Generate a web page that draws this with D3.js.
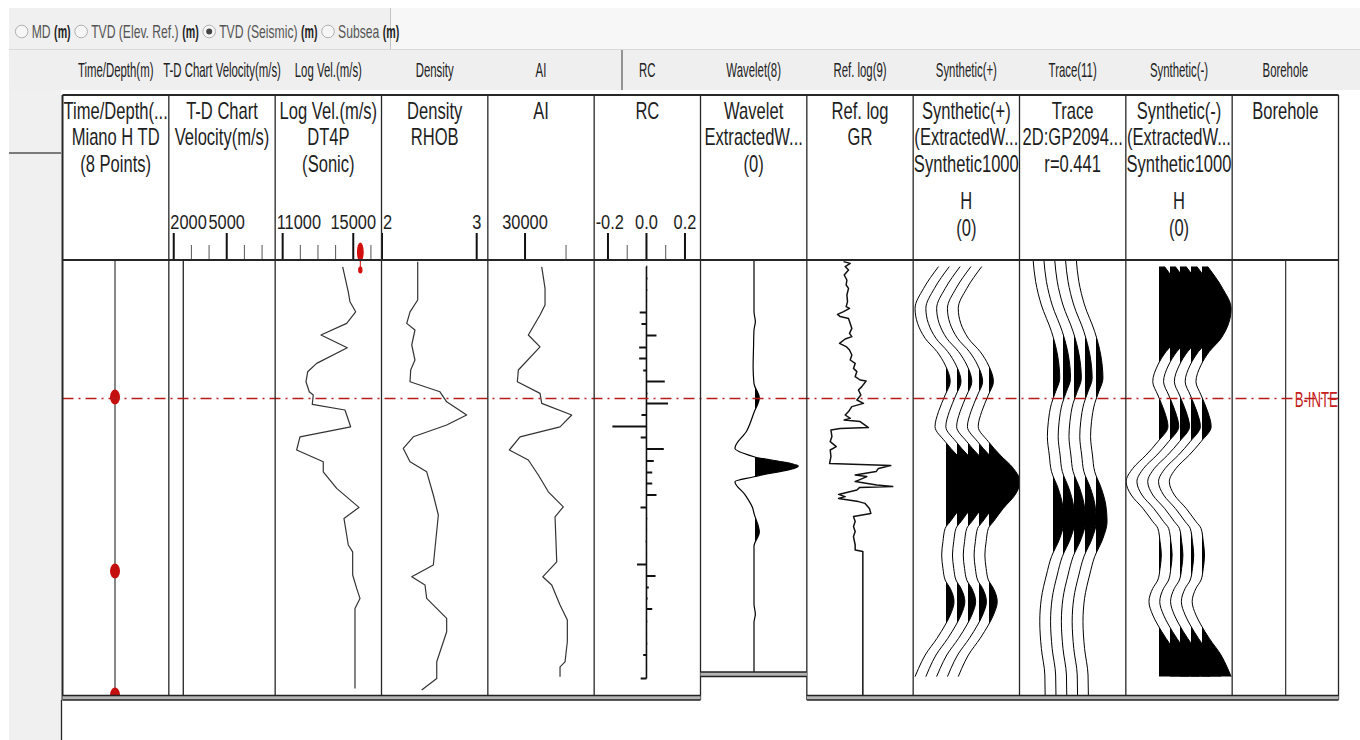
<!DOCTYPE html>
<html>
<head>
<meta charset="utf-8">
<script src="https://cdn.jsdelivr.net/npm/d3@7"></script>
<style>
  html, body { margin: 0; padding: 0; background: #fff; }
  svg { display: block; }
  text { font-family: "Liberation Sans", Arial, sans-serif; }
</style>
</head>
<body>
<svg id="chart" width="1360" height="740"></svg>
<script>
// ------------------------------------------------------------------
// Well-tie display: tracks, titles and scales
// ------------------------------------------------------------------
const depthModes = ["MD", "TVD (Elev. Ref.)", "TVD (Seismic)", "Subsea"];
const selectedMode = "TVD (Seismic)";
const depthUnit = "(m)";

const trackNames = ["timeDepth", "tdVelocity", "logVel", "density", "ai", "rc",
                    "wavelet", "refLog", "synthPos", "trace", "synthNeg", "borehole"];
const tabLabels = ["Time/Depth(m)", "T-D Chart Velocity(m/s)", "Log Vel.(m/s)", "Density", "AI", "RC",
                   "Wavelet(8)", "Ref. log(9)", "Synthetic(+)", "Trace(11)", "Synthetic(-)", "Borehole"];
const trackTitles = [
  ["Time/Depth(...", "Miano H TD", "(8 Points)"],
  ["T-D Chart", "Velocity(m/s)"],
  ["Log Vel.(m/s)", "DT4P", "(Sonic)"],
  ["Density", "RHOB"],
  ["AI"],
  ["RC"],
  ["Wavelet", "ExtractedW...", "(0)"],
  ["Ref. log", "GR"],
  ["Synthetic(+)", "(ExtractedW...", "Synthetic1000", "H", "(0)"],
  ["Trace", "2D:GP2094...", "r=0.441"],
  ["Synthetic(-)", "(ExtractedW...", "Synthetic1000", "H", "(0)"],
  ["Borehole"]
];

// scale ticks shown in the track headers
const tdTicksMajor = [2000, 5000];
const tdTicksMinor = [3000, 4000, 6000, 7000];
const velTicksMajor = [11000, 15000];
const velTicksMinor = [12000, 13000, 14000, 16000];
const rhoTicksMajor = [2, 3];
const aiTicksMajor = [30000];
const aiTicksMinor = [40000];
const rcTicksMajor = [-0.2, 0.0, 0.2];
const rcTicksMinor = [-0.1, 0.1];

// ------------------------------------------------------------------
// Log data  [depth (m), value]
// ------------------------------------------------------------------
const tdPointDepths = [2628.5, 2715.5, 2777.5];
const tdVelocity = [[2560, 2540], [2778, 2540]];
const logVelCursor = 15400;

const logVel = [[2563.4,14400],[2575.9,14717],[2580.9,14813],[2585.9,15136],[2591.7,14626],
  [2597.5,13170],[2603.9,14660],[2611.7,12926],[2615.9,12417],[2620.9,12320],[2625.9,12507],
  [2627.5,12734],[2632.2,12677],[2635,14530],[2643.4,14853],[2648.4,11980],[2655,11793],
  [2660.9,13300],[2665.9,13300],[2674.2,14060],[2683.7,15323],[2689.2,14473],[2697.5,14626],
  [2702.5,14717],[2705.9,14966],[2717.5,14966],[2724.2,15193],[2729.2,15380],[2734.2,15097],
  [2774.2,15097]];

const density = [[2560.9,2.377],[2580,2.377],[2585.9,2.296],[2591.7,2.261],[2595,2.348],
  [2602.5,2.314],[2610,2.348],[2615,2.303],[2620.9,2.296],[2625.9,2.612],[2630.9,2.683],
  [2637.5,2.894],[2642.5,2.683],[2648.4,2.331],[2654.2,2.225],[2660.9,2.296],[2665.9,2.472],
  [2677.5,2.542],[2687.5,2.595],[2712.5,2.542],[2718.4,2.314],[2722.5,2.454],[2729.2,2.472],
  [2739.2,2.683],[2745.9,2.683],[2760.9,2.578],[2769.2,2.578],[2775,2.419]];

const acousticImpedance = [[2563.4,34073],[2574.2,34878],[2582.5,34878],[2587.5,33659],
  [2597.5,30805],[2603.4,33659],[2615,28366],[2620.9,28122],[2626.7,33659],[2631.7,34073],
  [2637.5,41390],[2643.4,38537],[2648.4,28780],[2655,26171],[2660,30805],[2667.5,33244],
  [2675.9,35683],[2683.4,39341],[2688.4,37317],[2710.9,37732],[2718.4,34317],[2722.5,36512],
  [2732.5,38537],[2740,40317],[2750.9,40317],[2760.9,39756],[2763.4,38537],[2768.4,38537]];

const rcDepths = [2563.3,2569.2,2575.0,2580.5,2586.2,2592.0,2597.8,2603.7,2609.2,2615.3,
  2620.8,2626.7,2631.7,2637.5,2643.3,2648.8,2654.5,2660.5,2666.2,2671.8,2677.5,2683.7,
  2689.2,2695.0,2700.8,2706.7,2712.2,2718.0,2723.8,2729.2,2734.5,2740.8,2746.7,2751.7,
  2757.5,2763.3,2769.2];
const rcValues = [0.004,0.005,0.004,0.003,-0.035,-0.026,0.052,-0.038,-0.038,-0.017,
  0.095,0.005,0.112,-0.026,-0.177,-0.030,0.090,0.038,0.030,0.030,
  0.052,-0.031,0.004,0.003,-0.004,0.003,-0.049,0.047,0.012,0.006,
  0.030,0.004,0.003,0.004,-0.017,0.003,-0.030];

// wavelet: time (ms) and normalised amplitude
const waveletTime = [-100,-80,-75,-70,-66,-58,-48,-40,-33,-26,-17,-8.6,-4.5,0,5.2,7.6,14,20.4,23,32,39,60,67,72,76,100];
const waveletAmp  = [0,0,0,0.03,0,-0.01,-0.02,0,0.12,0,-0.165,-0.43,0,1.0,0,-0.43,-0.2,-0.03,0,0.12,0,0,0,0.03,0,0];

const gammaRay = [[2560.8,51.8],[2561.7,61.2],[2563.3,54.1],[2565,58.8],[2567.5,52.7],[2570,56.5],
  [2572.5,55.5],[2574.2,58.8],[2577.5,56.5],[2580.8,57.4],[2583.3,55.5],[2584.2,60.2],[2585.8,51.8],
  [2587.2,43.3],[2588.3,47.1],[2589.2,58.8],[2591.7,61.2],[2594.2,63.5],[2596.7,60.2],[2598.3,63.5],
  [2599.5,54.1],[2601.7,46.1],[2603.3,55.5],[2605,60.2],[2607.5,63.5],[2610,61.2],[2611.7,68.2],
  [2614.2,65.8],[2615.8,70.6],[2618.3,68.2],[2620,75.2],[2620.5,83.6],[2623.3,77.6],[2625,72.8],
  [2627.5,76.2],[2630,70.6],[2631.7,79.9],[2633.3,63.5],[2635.8,58.8],[2637.5,54.1],[2639.2,61.2],
  [2640,52.7],[2640.8,75.2],[2643.8,86.9],[2644.2,47.1],[2645,34.0],[2648.3,35.4],[2650.8,33.0],
  [2653.3,41.5],[2655,33.0],[2658.3,34.0],[2661.7,32.1],[2662.8,118.4],[2664.2,101],[2665.8,97.7],
  [2667.5,68.2],[2668.3,84.6],[2670.8,68.2],[2672.5,98.7],[2673.3,121.2],[2673.8,74.2],[2675,70.6],
  [2677.2,44.7],[2678.3,54.1],[2679.2,44.7],[2680.8,72.8],[2681.7,82.2],[2684.2,88.3],[2686.7,90.3],
  [2688.3,65.8],[2690.8,68.2],[2693.3,65.8],[2695.8,68.2],[2698.3,65.8],[2702.5,68.2],[2705,68.2],
  [2705.8,79],[2779.2,79]];

// synthetic seismogram (normalised amplitude)
const synthDepths = [2563.3,2574.2,2584.2,2599.2,2605.8,2612.5,2620.8,2627.5,2635.8,2643.3,
  2650.8,2657.5,2664.2,2670.8,2677.5,2684.2,2690.8,2694.2,2700.8,2707.5,2714.2,2720,
  2724.2,2730.8,2737.5,2742.5,2749.2,2757.5,2764.2,2768.3];
const synthAmp = [-0.21,-0.68,-0.95,-0.63,-0.26,0,0.16,0,-0.21,-0.32,
  0,0.37,0.79,1.0,0.84,0.47,0.16,0,-0.07,-0.11,-0.07,0,
  0.16,0.28,0.16,0,-0.26,-0.63,-0.84,-0.95];

// seismic trace at the well (normalised amplitude)
const traceDepths = [2560,2570.8,2582.5,2595.8,2607.5,2619.2,2625.8,2631.7,2640.8,2648.3,2657.5,
  2665.8,2674.2,2682.5,2690.8,2699.2,2708.3,2717.5,2729.2,2740.8,2754.2,2767.5,2777.5];
const traceAmp = [-0.58,-0.5,-0.32,0,0.19,0.26,0.13,0,-0.1,-0.13,-0.07,
  0,0.21,0.35,0.39,0.26,0,-0.16,-0.32,-0.37,-0.32,-0.21,-0.2];

const traceIds = [1, 2, 3, 4, 5];

const markerName = "B-INTER";
const markerDepth = 2629.2;

// ------------------------------------------------------------------
// Layout
// ------------------------------------------------------------------
const W = 1360, H = 740;
const boxTop = 95, dataTop = 260, dataBottom = 700, waveletBottom = 672;
const svg = d3.select("#chart");
const defs = svg.append("defs");

const xTrack = d3.scaleBand().domain(trackNames).range([62.5, 1338.5]);
const bw = xTrack.bandwidth();
const L = name => xTrack(name);

const y = d3.scaleLinear().domain([2560, 2780]).range([dataTop, dataBottom]);
const yWavelet = d3.scaleLinear().domain([-100, 100]).range([dataTop, waveletBottom]);

const xTdVel   = d3.scaleLinear().domain([2000, 5000]).range([L("tdVelocity") + 4.9, L("tdVelocity") + 57.9]);
const xLogVel  = d3.scaleLinear().domain([11000, 15000]).range([L("logVel") + 7.5, L("logVel") + 78.1]);
const xRho     = d3.scaleLinear().domain([2, 3]).range([L("density") + 0.5, L("density") + 95.2]);
const xAI      = d3.scaleLinear().domain([30000, 40000]).range([L("ai") + 37.2, L("ai") + 78.2]);
const xRC      = d3.scaleLinear().domain([-0.2, 0.2]).range([L("rc") + 13.8, L("rc") + 90.8]);
const xWavelet = d3.scaleLinear().domain([-1, 1]).range([L("wavelet") + 9.2, L("wavelet") + 97.8]);
const xGR      = d3.scaleLinear().domain([0, 150]).range([L("refLog"), L("refLog") + bw]);
const ampPx    = d3.scaleLinear().domain([0, 1]).range([0, 31.7]);

// ------------------------------------------------------------------
// Window chrome: depth mode bar, tab strip, side panel
// ------------------------------------------------------------------
svg.append("rect").attr("width", W).attr("height", H).attr("fill", "#fff");
svg.append("rect").attr("x", 9).attr("y", 8).attr("width", 381).attr("height", 41).attr("fill", "#f0f0f0");
svg.append("rect").attr("x", 390).attr("y", 8).attr("width", W - 390).attr("height", 41).attr("fill", "#f7f7f7");
svg.append("line").attr("x1", 390.5).attr("x2", 390.5).attr("y1", 8).attr("y2", 49).attr("stroke", "#c4c4c4");
svg.append("rect").attr("x", 9).attr("y", 50).attr("width", W - 9).attr("height", 40).attr("fill", "#efefef");
svg.append("line").attr("x1", 9).attr("x2", W).attr("y1", 49.5).attr("y2", 49.5).attr("stroke", "#d9d9d9");
svg.append("line").attr("x1", 622).attr("x2", 622).attr("y1", 50).attr("y2", 90).attr("stroke", "#555").attr("stroke-width", 1.2);
svg.append("rect").attr("x", 9).attr("y", 90).attr("width", 52).attr("height", H - 90).attr("fill", "#f0f0f0");
svg.append("line").attr("x1", 9).attr("x2", 61).attr("y1", 153).attr("y2", 153).attr("stroke", "#555").attr("stroke-width", 1.5);

// radio buttons for the depth reference
{
  const g = svg.append("g");
  let cx = 21.7;
  depthModes.forEach(m => {
    g.append("circle").attr("cx", cx).attr("cy", 31.5).attr("r", 6.3)
      .attr("fill", "#f6f6f6").attr("stroke", "#b0b0b0");
    if (m === selectedMode) {
      g.append("circle").attr("cx", cx).attr("cy", 31.5).attr("r", 3).attr("fill", "#444");
    }
    const sx = 0.64;
    const t = g.append("text").attr("font-size", 19).attr("fill", "#555")
      .attr("transform", `translate(${cx + 10},38) scale(${sx},1)`).text(m);
    const w = t.node().getComputedTextLength() * sx;
    const ux = cx + 10 + w + 3.5;
    const u = g.append("text").attr("font-size", 19).attr("font-weight", "bold").attr("fill", "#222")
      .attr("transform", `translate(${ux},38) scale(0.56,1)`).text(depthUnit);
    const uw = u.node().getComputedTextLength() * 0.56;
    cx = ux + uw + 10.5;
  });
}

// tab strip labels
svg.append("g").selectAll("text").data(tabLabels).join("text")
  .attr("font-size", 20).attr("fill", "#222").attr("text-anchor", "middle")
  .attr("transform", (d, i) => `translate(${L(trackNames[i]) + bw / 2},76.5) scale(0.57,1)`)
  .text(d => d);

// ------------------------------------------------------------------
// Track headers
// ------------------------------------------------------------------
const titleBaselines = [118.5, 145, 172, 208.5, 236];
trackTitles.forEach((lines, i) => {
  const cx = L(trackNames[i]) + bw / 2;
  svg.append("g").selectAll("text").data(lines).join("text")
    .attr("font-size", 23).attr("fill", "#1e1e1e").attr("text-anchor", "middle")
    .attr("transform", (d, k) => `translate(${cx},${titleBaselines[k]}) scale(0.72,1)`)
    .text(d => d);
});

function drawScale(name, scale, majors, minors, fmt) {
  const left = L(name), right = left + bw;
  const g = svg.append("g");
  minors.forEach(v => g.append("line").attr("x1", scale(v)).attr("x2", scale(v))
    .attr("y1", 245).attr("y2", dataTop).attr("stroke", "#555").attr("stroke-width", 1));
  majors.forEach(v => g.append("line").attr("x1", scale(v)).attr("x2", scale(v))
    .attr("y1", 233).attr("y2", dataTop).attr("stroke", "#111").attr("stroke-width", 2));
  const sx = 0.78;
  majors.forEach(v => {
    const t = g.append("text").attr("font-size", 21).attr("fill", "#1e1e1e").text(fmt(v));
    const w = t.node().getComputedTextLength() * sx;
    let x = scale(v) - w / 2;
    if (x < left + 1.5) x = left + 1.5;
    if (x + w > right - 1) x = right - 1 - w;
    t.attr("transform", `translate(${x},229) scale(${sx},1)`);
  });
}
drawScale("tdVelocity", xTdVel, tdTicksMajor, tdTicksMinor, d => String(d));
drawScale("logVel", xLogVel, velTicksMajor, velTicksMinor, d => String(d));
drawScale("density", xRho, rhoTicksMajor, [], d => String(d));
drawScale("ai", xAI, aiTicksMajor, aiTicksMinor, d => String(d));
drawScale("rc", xRC, rcTicksMajor, rcTicksMinor, d => d.toFixed(1));

// ------------------------------------------------------------------
// Data area
// ------------------------------------------------------------------
trackNames.forEach(n => {
  defs.append("clipPath").attr("id", "clip-" + n).append("rect")
    .attr("x", L(n)).attr("y", dataTop).attr("width", bw)
    .attr("height", (n === "wavelet" ? waveletBottom : dataBottom - 4) - dataTop);
});
const trackG = n => svg.append("g").attr("clip-path", `url(#clip-${n})`);

// time-depth points
{
  const g = trackG("timeDepth");
  const cx = L("timeDepth") + 52.5;
  g.append("line").attr("x1", cx).attr("x2", cx).attr("y1", dataTop).attr("y2", dataBottom)
    .attr("stroke", "#555").attr("stroke-width", 1.4);
  g.selectAll("ellipse").data(tdPointDepths).join("ellipse")
    .attr("cx", cx).attr("cy", d => y(d)).attr("rx", 5).attr("ry", 7.5).attr("fill", "#c40f0f");
}

// curve helper
function drawCurve(n, data, xs, width, color) {
  trackG(n).append("path")
    .attr("d", d3.line().x(d => xs(d[1])).y(d => y(d[0]))(data))
    .attr("fill", "none").attr("stroke", color).attr("stroke-width", width)
    .attr("stroke-linejoin", "round");
}
drawCurve("tdVelocity", tdVelocity, xTdVel, 1.3, "#222");
drawCurve("logVel", logVel, xLogVel, 1.2, "#333");
drawCurve("density", density, xRho, 1.2, "#333");
drawCurve("ai", acousticImpedance, xAI, 1.2, "#333");
drawCurve("refLog", gammaRay, xGR, 1.5, "#111");

// log velocity cursor in the header
{
  const cx = xLogVel(logVelCursor);
  svg.append("ellipse").attr("cx", cx).attr("cy", 252).attr("rx", 3.4).attr("ry", 9.5).attr("fill", "#d40d0d");
  svg.append("line").attr("x1", cx).attr("x2", cx).attr("y1", 258).attr("y2", 268).attr("stroke", "#d40d0d").attr("stroke-width", 1);
  svg.append("ellipse").attr("cx", cx).attr("cy", 270).attr("rx", 2.2).attr("ry", 3.4).attr("fill", "#d40d0d");
}

// reflection coefficients
{
  const g = trackG("rc");
  const x0 = xRC(0);
  g.append("line").attr("x1", x0).attr("x2", x0)
    .attr("y1", y(rcDepths[0])).attr("y2", y(rcDepths[rcDepths.length - 1]))
    .attr("stroke", "#111").attr("stroke-width", 1.6);
  g.selectAll("line.spike").data(rcValues).join("line").attr("class", "spike")
    .attr("x1", x0).attr("x2", d => xRC(d))
    .attr("y1", (d, i) => y(rcDepths[i])).attr("y2", (d, i) => y(rcDepths[i]))
    .attr("stroke", "#111").attr("stroke-width", 2);
}

// variable-area wiggle helper: black fill on the positive side of each baseline
let clipSeq = 0;
function wiggle(g, base, pts, xAmp, yPos, lineW) {
  const id = "va-" + (clipSeq++);
  defs.append("clipPath").attr("id", id).append("rect")
    .attr("x", Math.round(base) + 1).attr("y", 0).attr("width", 300).attr("height", H);
  const area = d3.area().y(p => yPos(p[0])).x0(base).x1(p => base + xAmp(p[1])).curve(d3.curveMonotoneY);
  g.append("path").attr("d", area(pts)).attr("fill", "#000").attr("clip-path", `url(#${id})`);
  const line = d3.line().y(p => yPos(p[0])).x(p => base + xAmp(p[1])).curve(d3.curveMonotoneY);
  g.append("path").attr("d", line(pts)).attr("fill", "none").attr("stroke", "#000").attr("stroke-width", lineW);
}

// wavelet
{
  const g = trackG("wavelet");
  const pts = waveletTime.map((t, i) => [t, waveletAmp[i]]);
  const base = xWavelet(0);
  wiggle(g, base, pts, a => xWavelet(a) - base, yWavelet, 1.2);
}

// synthetic (+), trace, synthetic (-)
function drawGather(n, depths, amps, polarity) {
  const g = trackG(n);
  const pos = d3.scalePoint().domain(traceIds).range([L(n) + 32, L(n) + 75.2]);
  const pts = depths.map((d, i) => [d, polarity * amps[i]]);
  traceIds.forEach(k => wiggle(g, pos(k), pts, a => ampPx(a), y, 1));
}
drawGather("synthPos", synthDepths, synthAmp, 1);
drawGather("trace", traceDepths, traceAmp, 1);
drawGather("synthNeg", synthDepths, synthAmp, -1);

// borehole column
svg.append("line").attr("x1", L("borehole") + 53.5).attr("x2", L("borehole") + 53.5)
  .attr("y1", dataTop).attr("y2", dataBottom).attr("stroke", "#333").attr("stroke-width", 1.2);

// horizon marker
svg.append("line").attr("x1", 62.5).attr("x2", 1338.5).attr("y1", y(markerDepth)).attr("y2", y(markerDepth))
  .attr("stroke", "#b71c1c").attr("stroke-width", 1.5).attr("stroke-dasharray", "11,5,2,5");
trackG("borehole").append("text").attr("font-size", 22).attr("fill", "#c62020")
  .attr("transform", `translate(${L("borehole") + 62.5},${y(markerDepth) + 9}) scale(0.6,1)`)
  .text(markerName);

// ------------------------------------------------------------------
// Frame lines
// ------------------------------------------------------------------
{
  const g = svg.append("g").attr("stroke", "#262626");
  const edges = trackNames.map(n => L(n)).concat([L("borehole") + bw]);
  edges.forEach((x, i) => g.append("line").attr("x1", x).attr("x2", x)
    .attr("y1", boxTop).attr("y2", dataBottom).attr("stroke-width", i === 0 ? 2 : 1.3));
  g.append("line").attr("x1", 61.5).attr("x2", 61.5).attr("y1", dataBottom).attr("y2", H).attr("stroke-width", 1.3);
  g.append("line").attr("x1", 62.5).attr("x2", 1338.5).attr("y1", boxTop).attr("y2", boxTop).attr("stroke-width", 2);
  g.append("line").attr("x1", 62.5).attr("x2", 1338.5).attr("y1", dataTop).attr("y2", dataTop).attr("stroke-width", 2);

  // double rule along the bottom of each track
  function doubleRule(x1, x2, yTop) {
    svg.append("rect").attr("x", x1).attr("y", yTop).attr("width", x2 - x1).attr("height", 4.5).attr("fill", "#b5b5b5");
    svg.append("line").attr("x1", x1).attr("x2", x2).attr("y1", yTop).attr("y2", yTop).attr("stroke", "#222").attr("stroke-width", 1.3);
    svg.append("line").attr("x1", x1).attr("x2", x2).attr("y1", yTop + 4.5).attr("y2", yTop + 4.5).attr("stroke", "#222").attr("stroke-width", 1.3);
  }
  doubleRule(62.5, L("wavelet"), dataBottom - 4.5);
  doubleRule(L("refLog"), 1338.5, dataBottom - 4.5);
  doubleRule(L("wavelet"), L("wavelet") + bw, waveletBottom);
}
</script>
</body>
</html>
